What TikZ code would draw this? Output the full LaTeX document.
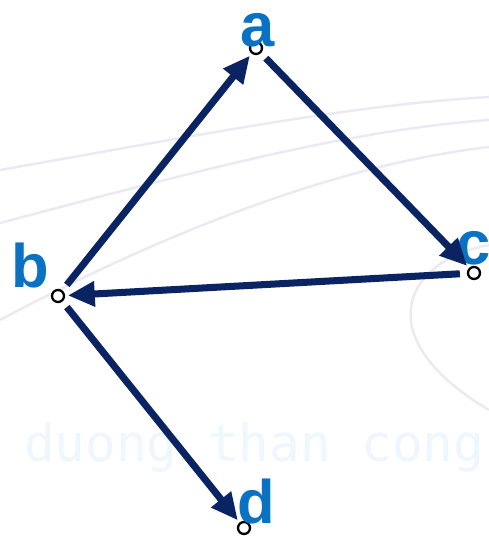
\documentclass[tikz,border=0pt]{standalone}
\usepackage{fontspec}
\setmainfont{Liberation Sans}
\newfontfamily\wmfont{DejaVu Sans Mono}
\usepackage{xcolor}
\usetikzlibrary{arrows.meta, positioning, calc}
\definecolor{edgeblue}{HTML}{0A2463}
\definecolor{labelblue}{HTML}{0A72C2}
\definecolor{faintline}{RGB}{234,234,244}
\definecolor{wmcolor}{RGB}{238,247,253}
\tikzset{
  vertex/.style={draw, circle, fill=white, line width=1.3pt, minimum size=0.24cm, inner sep=0pt},
  vlabel/.style={text=labelblue, font=\fontsize{35}{35}\selectfont\bfseries, inner sep=0pt},
  edge/.style={-{Triangle[length=5.4mm, width=4.8mm]}, line width=4pt, draw=edgeblue, shorten <=4pt, shorten >=1.5pt},
  bgcurve/.style={draw=faintline, line width=1.4pt}
}
\begin{document}
\begin{tikzpicture}[x=0.02cm, y=-0.02cm]
        \useasboundingbox (0,0) rectangle (489,537);
        \fill[white] (0,0) rectangle (489,537);

        % Background
        \draw[bgcurve] (0,170) .. controls (200,135) and (350,105) .. (489,97);
        \draw[bgcurve] (0,223) .. controls (200,170) and (350,130) .. (489,120);
        \draw[bgcurve] (0,320) .. controls (150,240) and (330,165) .. (489,147);
        \draw[bgcurve] (489,245) .. controls (400,262) and (370,340) .. (489,410);
        \node[text=wmcolor, font=\wmfont\fontsize{29}{29}\selectfont, anchor=west] (wm) at (18,448) {duong than cong};

        % Vertices
        \node[vertex] (a) at (256,48) {};
        \node[vertex] (b) at (58,296) {};
        \node[vertex] (c) at (474,273) {};
        \node[vertex] (d) at (244,528) {};

        % Labels
        \node[vlabel] (la) at (258,30) {a};
        \node[vlabel] (lb) at (30,266) {b};
        \node[vlabel] (lc) at (474,248) {c};
        \node[vlabel] (ld) at (256,502) {d};

        % Edges
        \draw[edge] (b) -- (a);
        \draw[edge] (a) -- (c);
        \draw[edge] (c) -- (b);
        \draw[edge] (b) -- (d);
    \end{tikzpicture}
\end{document}
